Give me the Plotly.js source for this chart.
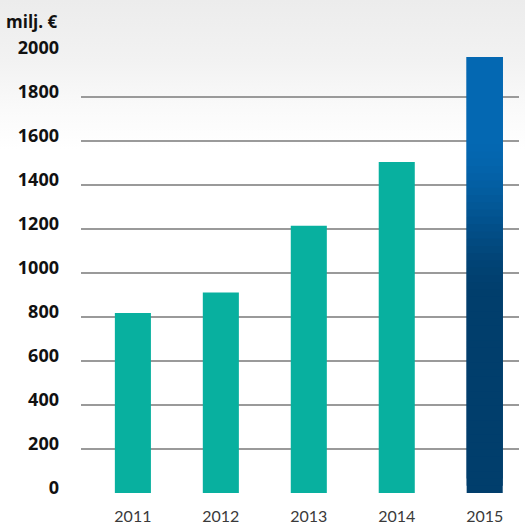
<!DOCTYPE html>
<html>
<head>
<meta charset="utf-8">
<script src="https://cdn.plot.ly/plotly-3.0.1.min.js"></script>
<style>
html,body{margin:0;padding:0;}
body{width:525px;height:525px;background:linear-gradient(to bottom,#ececec 0px,#f2f2f2 60px,#fafafa 110px,#ffffff 150px);}
#chart{width:525px;height:525px;}
</style>
</head>
<body>
<div id="chart"></div>
<script>
const years = ['2011','2012','2013','2014','2015'];
const values = [818, 911, 1215, 1505, 1982];
const yTicks = [0,200,400,600,800,1000,1200,1400,1600,1800,2000];
const unitLabel = 'milj. €';

const teal = '#08b09f';
const barWidth = 0.41;

const tealTrace = {
  type:'bar', x: years.slice(0,4), y: values.slice(0,4),
  width: barWidth, marker:{color: teal, line:{width:0}}, hoverinfo:'skip', showlegend:false
};

// last bar: vertical gradient drawn as overlapping stacked slices of its value
function lerp(a,b,t){return a+(b-a)*t;}
function gradColor(f){
  const dark=[1,62,108], bright=[4,104,178];
  let t;
  if(f<0.44) t=0; else if(f>0.82) t=1; else t=(f-0.44)/0.38;
  t = t*t*(3-2*t);
  const c=dark.map((d,i)=>Math.round(lerp(d,bright[i],t)));
  return 'rgb('+c.join(',')+')';
}
const N = 60;
const lastYear = years[4], lastVal = values[4];
const slices = [];
for(let i=0;i<N;i++){
  const b = lastVal*i/N;
  const h = Math.min(lastVal/N*3, lastVal-b);
  slices.push({
    type:'bar', x:[lastYear], y:[h], base:[b],
    width: barWidth, marker:{color: gradColor((i+0.5)/N), line:{width:0}},
    hoverinfo:'skip', showlegend:false
  });
}

const data=[tealTrace, ...slices];

const layout={
  width:525, height:525,
  margin:{l:81, r:6, t:53, b:32},
  paper_bgcolor:'rgba(0,0,0,0)', plot_bgcolor:'rgba(0,0,0,0)',
  barmode:'overlay',
  xaxis:{
    type:'category', categoryorder:'array', categoryarray: years,
    range:[-0.59, 4.39], showgrid:false, zeroline:false, showline:false,
    ticks:'', ticklabelstandoff:12,
    tickfont:{family:'Lato, sans-serif', size:16, color:'#3a3a3a'}
  },
  yaxis:{
    range:[0,2000], tickvals: yTicks, ticktext: yTicks.map(String),
    showgrid:true, gridcolor:'#9a9a9a', gridwidth:1.5,
    zeroline:false, showline:false, ticks:'', ticklabelstandoff:21, ticklabelshift:-5,
    tickfont:{family:'"Open Sans", sans-serif', size:18, color:'#111', weight:'bold'}
  },
  annotations:[{
    xref:'paper', yref:'paper', x:-0.048, y:1.0, yshift:32, xanchor:'right', yanchor:'middle',
    text:'<b>'+unitLabel+'</b>', showarrow:false,
    font:{family:'"Open Sans", sans-serif', size:17, color:'#111'}
  }]
};
Plotly.newPlot('chart', data, layout, {displayModeBar:false, staticPlot:true});
</script>
</body>
</html>
